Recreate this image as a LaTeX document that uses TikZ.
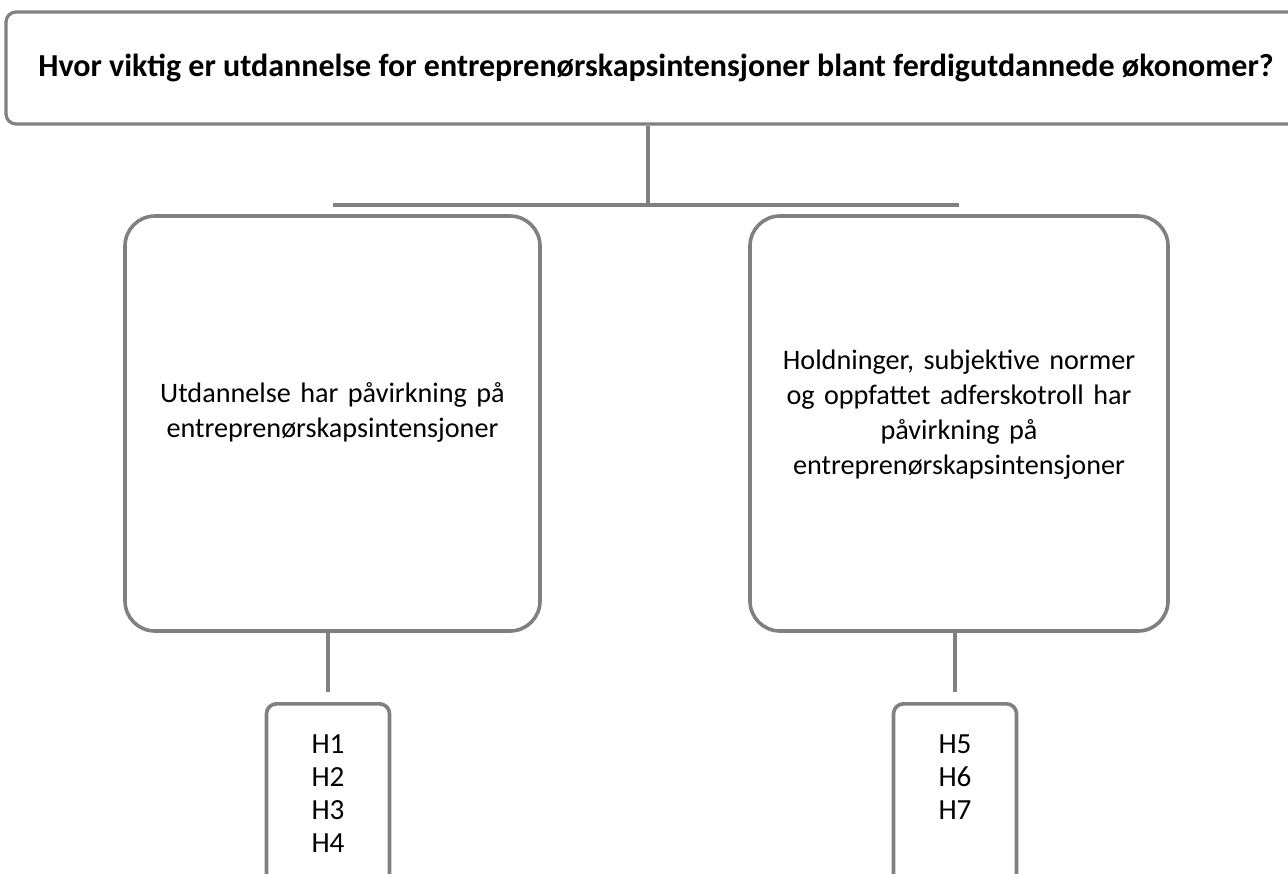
\documentclass[tikz,border=0pt]{standalone}
\usepackage{fontspec}
\setmainfont{Carlito}
\usetikzlibrary{positioning}
\usetikzlibrary{calc}
\definecolor{boxline}{rgb}{0.5,0.5,0.5}

\begin{document}
\begin{tikzpicture}[x=0.5pt, y=-0.5pt,
    question/.style={draw=boxline, line width=1.6pt, rounded corners=5pt, minimum width=650pt, minimum height=56pt, font=\bfseries\fontsize{16}{19}\selectfont},
    claim/.style={draw=boxline, line width=1.8pt, rounded corners=15pt, minimum height=207.5pt, text width=195pt, align=center, font=\fontsize{14.1}{17.5}\selectfont},
    hyp/.style={draw=boxline, line width=1.8pt, rounded corners=5pt, minimum width=61.5pt, minimum height=90pt, anchor=north, align=center, font=\fontsize{14.6}{16.5}\selectfont},
    link/.style={draw=boxline, line width=1.6pt}]

    \useasboundingbox (0,0) rectangle (1288,873);

    % main question
    \node[question] (q) at (656,68) {Hvor viktig er utdannelse for entreprenørskapsintensjoner blant ferdigutdannede økonomer?};

    % the two claims
    \node[claim, minimum width=207.5pt] (edu) at (332.5,423.5) {Utdannelse har påvirkning på\\entreprenørskapsintensjoner\\[-4pt]\mbox{}};
    \node[claim, minimum width=209pt] (tpb) at (959,423.5) {Holdninger, subjektive normer\\og oppfattet adferskotroll har\\påvirkning på\\entreprenørskapsintensjoner\\[-6pt]\mbox{}};

    % hypotheses
    \node[hyp] (h14) at (328,702) {H1\\H2\\H3\\H4};
    \node[hyp] (h57) at (955,702) {H5\\H6\\H7\\\mbox{}};

    \coordinate (bar) at (0,205);
    \draw[link] (q.south -| 648,0) -- (648,205);
    \draw[link] (edu.north |- bar) -- (tpb.north |- bar);
    \draw[link] (h14.north |- edu.south) -- ([yshift=5pt]h14.north);
    \draw[link] (h57.north |- tpb.south) -- ([yshift=5pt]h57.north);

\end{tikzpicture}
\end{document}
